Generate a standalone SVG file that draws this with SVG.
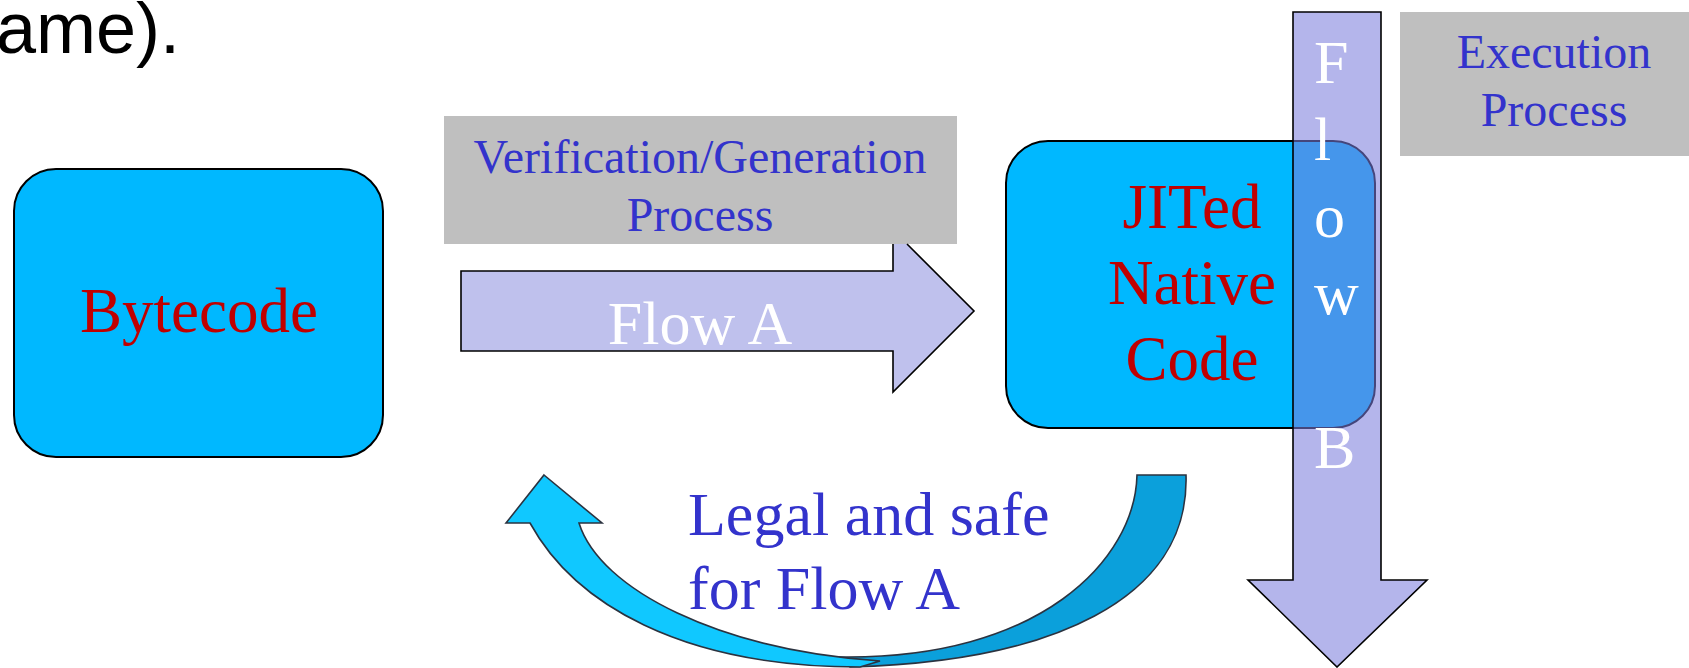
<svg xmlns="http://www.w3.org/2000/svg" width="1689" height="668" viewBox="0 0 1689 668">
<style>
.node{fill:#00B8FF;stroke:#000;stroke-width:2}
.box{fill:#BFBFBF}
.serif{font-family:"Liberation Serif","Times New Roman",serif}
.red{fill:#C00000;font-size:63px;text-anchor:middle}
.blue{fill:#3333CC}
.lbl{font-size:48px;text-anchor:middle}
.wh{fill:#FFFFFF}
.arr{stroke:#000;stroke-width:1.6;stroke-linejoin:miter}
.curve{stroke:#2B3340;stroke-width:1.6;stroke-linejoin:miter}
</style>
<rect width="1689" height="668" fill="#FFFFFF"/>
<text x="-4" y="53" font-family="'Liberation Sans',Arial,sans-serif" font-size="72" fill="#000">ame).</text>

<g id="bytecode">
<rect class="node" x="14" y="169" width="369" height="288" rx="42" ry="42"/>
<text class="serif red" x="199" y="332">Bytecode</text>
</g>

<g id="verification">
<rect class="box" x="444" y="116" width="513" height="128"/>
<text class="serif blue lbl" x="700" y="173">Verification/Generation</text>
<text class="serif blue lbl" x="700" y="231">Process</text>
</g>

<g id="jited">
<rect class="node" x="1006" y="141" width="369" height="287" rx="42" ry="42"/>
<text class="serif red" x="1192" y="228">JITed</text>
<text class="serif red" x="1192" y="304">Native</text>
<text class="serif red" x="1192" y="380">Code</text>
</g>

<g id="execution">
<rect class="box" x="1400" y="12" width="300" height="144"/>
<text class="serif blue lbl" x="1554" y="68">Execution</text>
<text class="serif blue lbl" x="1554" y="126">Process</text>
</g>

<g id="connectors">
<g id="flow-a">
<path class="arr" d="M907,244 L974,311 L893,392 L893,351 L461,351 L461,271 L893,271 L893,244" fill="#BFC1ED"/>
<text class="serif wh" x="700" y="344" font-size="62" text-anchor="middle">Flow A</text>
</g>
<g id="flow-b">
<path class="arr" d="M1293,12 L1381,12 L1381,580 L1427,580 L1337,667 L1248,580 L1293,580 Z" fill="#7A7CDB" fill-opacity="0.565"/>
<g class="serif wh" font-size="62">
<text x="1314" y="83">F</text>
<text x="1314" y="160">l</text>
<text x="1314" y="237">o</text>
<text x="1314" y="314">w</text>
<text x="1314" y="468">B</text>
</g>
</g>
<g id="feedback">
<path class="curve" d="M1137,475 L1186,475 C1190,600 1050,662 850,667 L840,657 C1040,660 1135,560 1137,475 Z" fill="#0BA0DB"/>
<path class="curve" d="M544,475 L602,523 L579,523 C600,590 720,650 880,661 L860,667 C680,667 574,603 530,523 L506,523 Z" fill="#10C8FF"/>
<text class="serif blue" x="688" y="535" font-size="62">Legal and safe</text>
<text class="serif blue" x="688" y="609" font-size="62">for Flow A</text>
</g>
</g>
</svg>
